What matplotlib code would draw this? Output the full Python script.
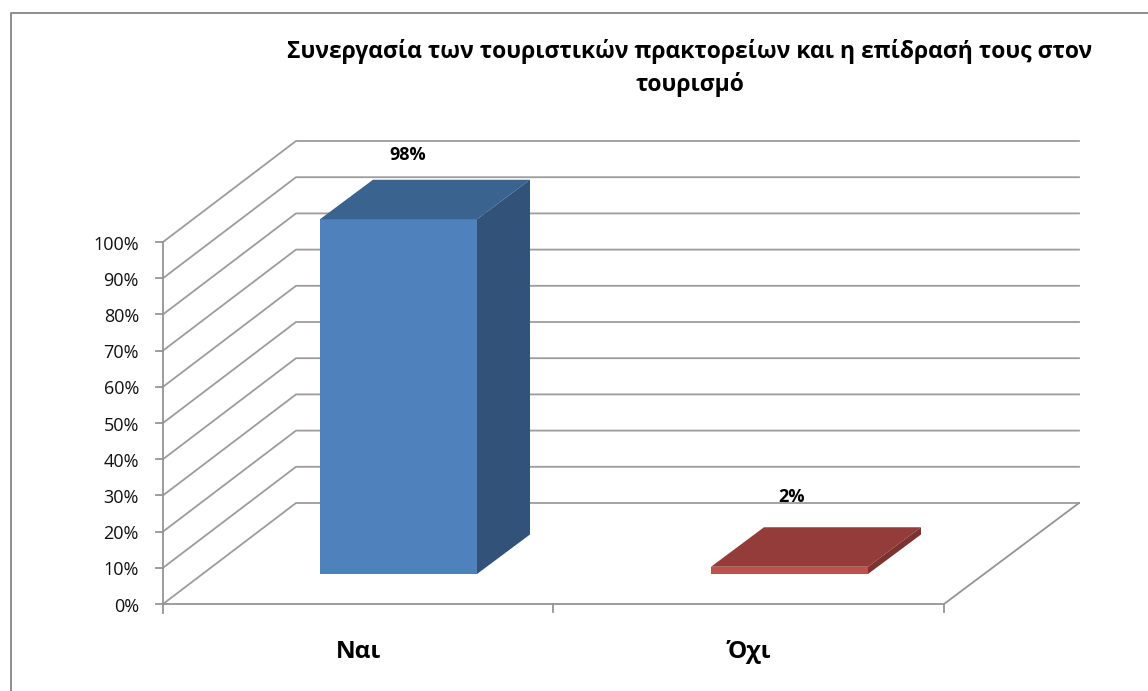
import matplotlib
matplotlib.use("Agg")
import matplotlib.pyplot as plt
from matplotlib.patches import Polygon, Rectangle

categories = ['Ναι', 'Όχι']
values = [98, 2]
tick_values = [0, 10, 20, 30, 40, 50, 60, 70, 80, 90, 100]
title = 'Συνεργασία των τουριστικών πρακτορείων και η επίδρασή τους στον\nτουρισμό'

plt.rcParams['font.family'] = ['Open Sans', 'DejaVu Sans']

W, H = 1148, 691
fig = plt.figure(figsize=(W / 100, H / 100), dpi=100)
ax = fig.add_axes([0, 0, 1, 1])
ax.set_xlim(0, W)
ax.set_ylim(H, 0)
ax.axis('off')

# pixels du cadre 3D
x0, y0 = 163, 604
per10 = 36.2
dx, dy = 133, -101
x_end = 944
grid = '#9c9c9c'
frame = '#949494'


def y_of(v):
    return y0 - v / 10 * per10


# cadre du graphique : gauche et haut seulement
ax.plot([10.5, 10.5, W], [H, 13, 13], color='#858585', lw=1.3)

for v in tick_values:
    y = y_of(v)
    ax.plot([x0, x0 + dx, 1079], [y, y + dy, y + dy], color=grid, lw=1.3)
    ax.plot([x0 - 7, x0], [y, y], color=frame, lw=1.3)
    ax.text(139, y + 2.5, f'{v}%', ha='right', va='center', fontsize=13, color='#111111')

ax.plot([x0, x0], [y_of(100), y0 + 9], color=frame, lw=1.3)
ax.plot([x0, x_end, 1079], [y0, y0, y0 + dy], color=frame, lw=1.3)
for x in [553, x_end]:
    ax.plot([x, x], [y0, y0 + 8], color=frame, lw=1.3)

# barres : face, dessus, cote
bar_x = [320, 711]
bar_w = 157
bar_dx, bar_dy = 53, -39.5
base = 574
scale = 3.62
faces = ['#4f81bd', '#c0504d']
tops = ['#3b6390', '#933c39']
sides = ['#325279', '#7c322f']
labels_at = [(408, 155), (791.5, 497)]
cat_x = [359, 749]

for i, v in enumerate(values):
    x = bar_x[i]
    t = base - v * scale
    ax.add_patch(Rectangle((x, t), bar_w, base - t, fc=faces[i], ec='none', zorder=3))
    ax.add_patch(Polygon([(x, t), (x + bar_dx, t + bar_dy), (x + bar_w + bar_dx, t + bar_dy), (x + bar_w, t)],
                         fc=tops[i], ec='none', zorder=3))
    ax.add_patch(Polygon([(x + bar_w, t), (x + bar_w + bar_dx, t + bar_dy), (x + bar_w + bar_dx, base + bar_dy), (x + bar_w, base)],
                         fc=sides[i], ec='none', zorder=3))
    ax.text(labels_at[i][0], labels_at[i][1], f'{v}%', ha='center', va='center', fontsize=13, fontweight='bold', zorder=4)
    ax.text(cat_x[i], 652, categories[i], ha='center', va='center', fontsize=17.5, fontweight='bold')

ax.text(690, 68, title, ha='center', va='center', fontsize=16.5, fontweight='bold', linespacing=1.47)

fig.savefig('out.png', dpi=100)
